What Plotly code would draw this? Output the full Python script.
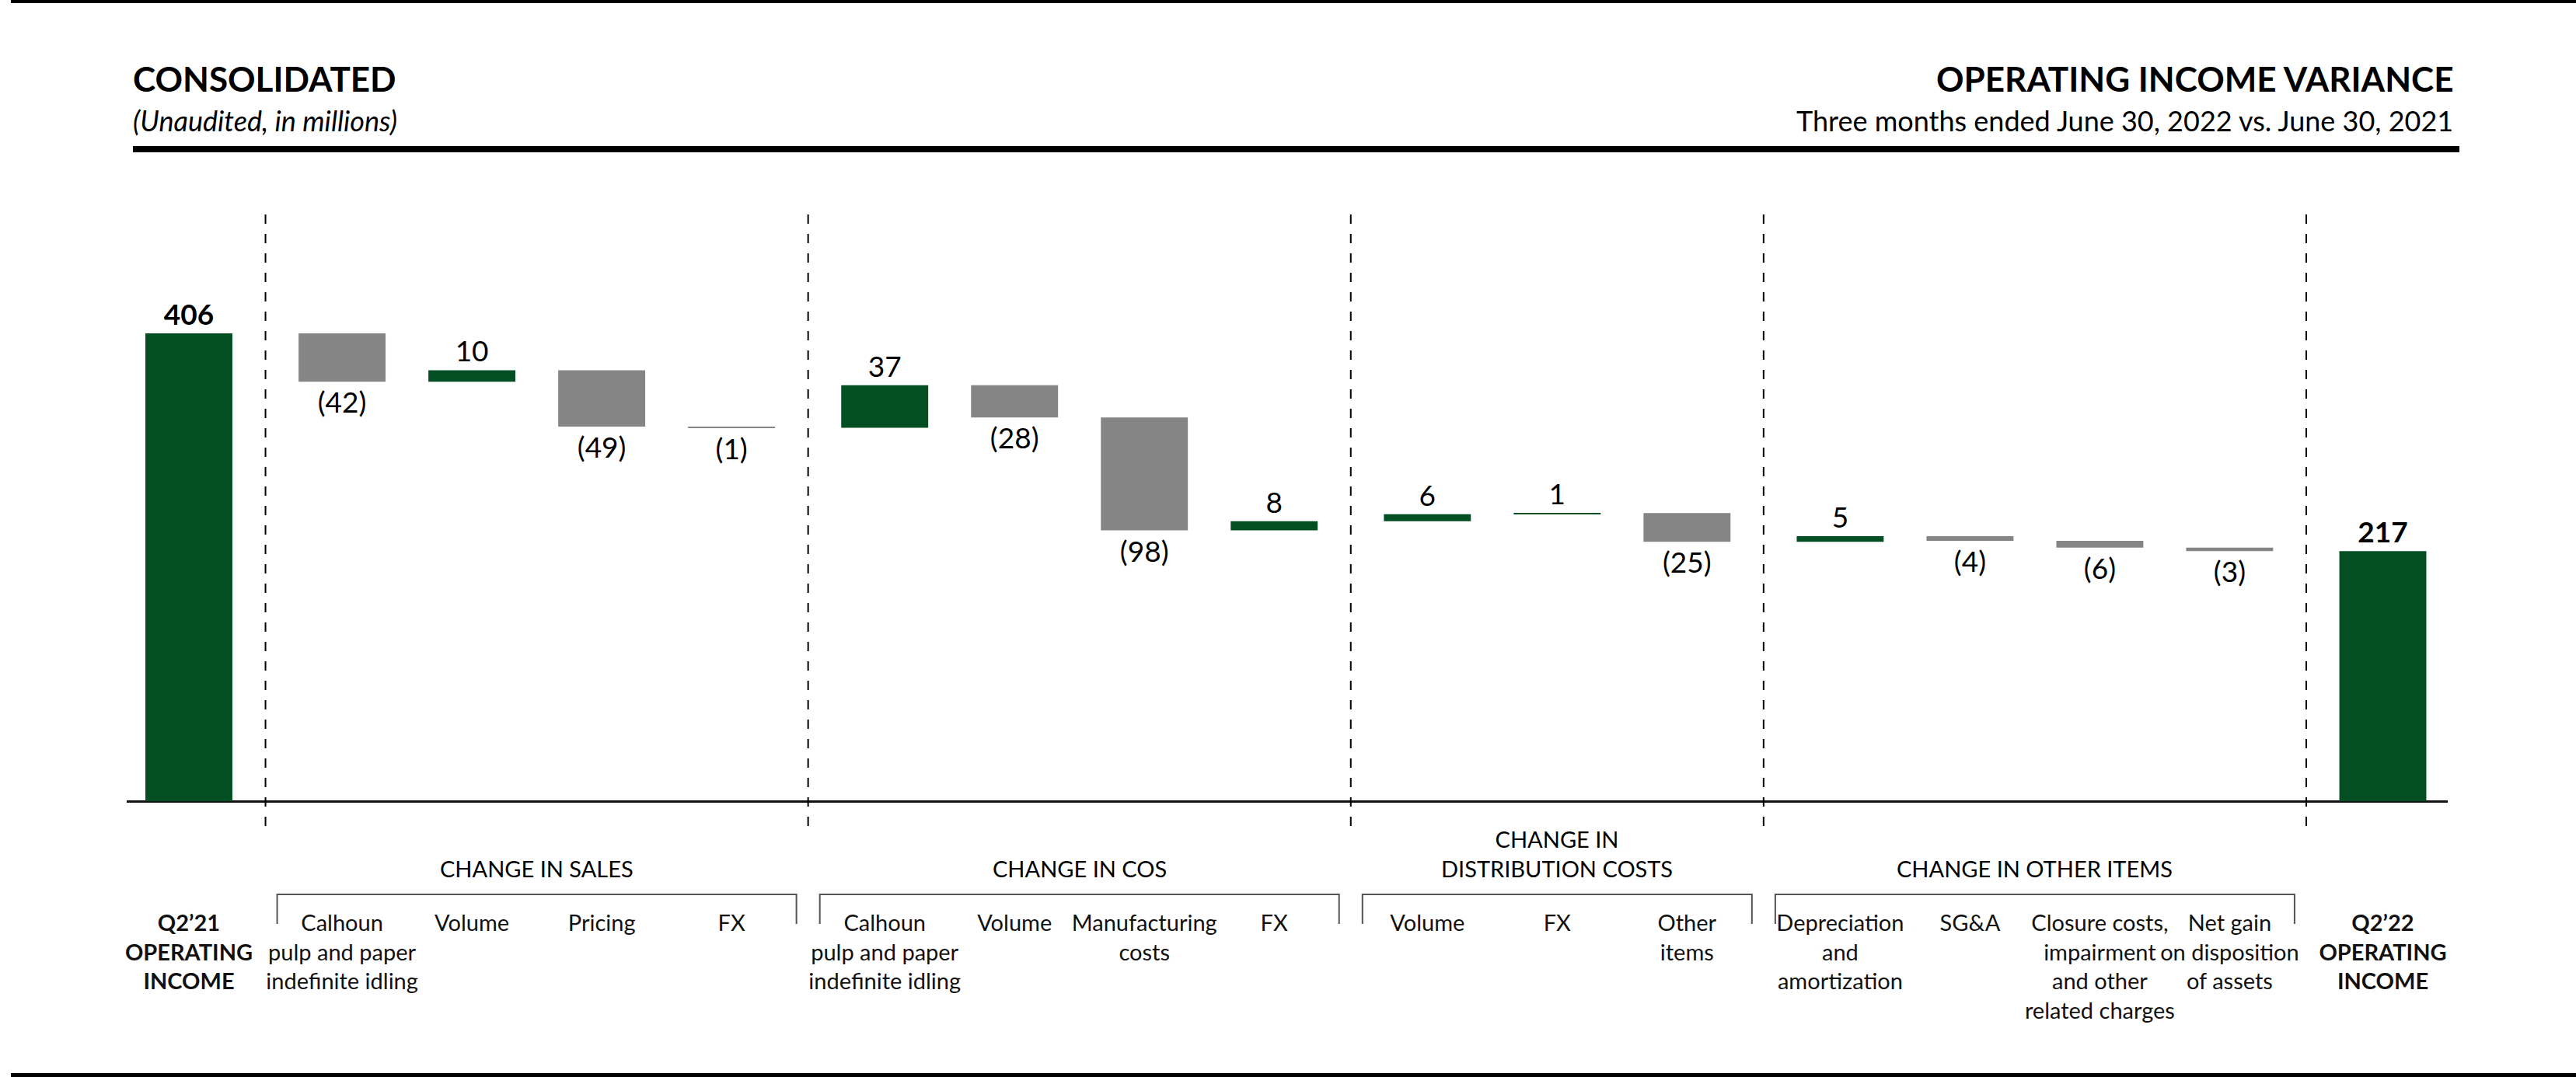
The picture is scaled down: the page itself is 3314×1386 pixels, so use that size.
import plotly.graph_objects as go

# ---------------- data ----------------
categories = [
    "Q2’21|OPERATING|INCOME",
    "Calhoun|pulp and paper|indefinite idling", "Volume", "Pricing", "FX",
    "Calhoun|pulp and paper|indefinite idling", "Volume", "Manufacturing|costs", "FX",
    "Volume", "FX", "Other|items",
    "Depreciation|and|amortization", "SG&amp;A", "Closure costs,|impairment|and other|related charges",
    "Net gain|on disposition|of assets",
    "Q2’22|OPERATING|INCOME",
]
group_index = [0, 1, 1, 1, 1, 2, 2, 2, 2, 3, 3, 3, 4, 4, 4, 4, 5]
group_titles = {1: "CHANGE IN SALES", 2: "CHANGE IN COS",
                3: "CHANGE IN<br>DISTRIBUTION COSTS", 4: "CHANGE IN OTHER ITEMS"}
measures = ["absolute"] + ["relative"] * 15 + ["total"]
values = [406, -42, 10, -49, -1, 37, -28, -98, 8, 6, 1, -25, 5, -4, -6, -3, 217]

# ---------------- style / layout constants ----------------
GREEN = "#034E23"
GRAY = "#858585"
FONT = "Lato"
W, H = 3314, 1386
L, R, T, B = 163, 3149, 276, 1072      # plot area in pixels
BASE_PX = 1031                          # pixel row of the zero line
PX_PER_UNIT = 1.4828
GROUP_GAP = 0.18
BAR_W = 0.67
X_RANGE = [-0.479, 17.40]

y_lo = -(B - BASE_PX) / PX_PER_UNIT
y_hi = (BASE_PX - T) / PX_PER_UNIT


def px_x(px):
    return (px - L) / (R - L)


def px_y(py):
    return (B - py) / (B - T)


n = len(values)
xpos = [i + GROUP_GAP * g for i, g in enumerate(group_index)]


def fmt(v, m):
    s = f"({abs(v)})" if v < 0 else f"{v}"
    return f"<b>{s}</b>" if m != "relative" else s


labels = [fmt(v, m) for v, m in zip(values, measures)]


def tick(cat, m):
    parts = cat.split("|")
    if m != "relative":
        return "<br>".join(f"<b>{p}</b>" for p in parts)
    return "<br>".join(parts)


ticktext = [tick(c, m) for c, m in zip(categories, measures)]

fig = go.Figure()
fig.add_trace(go.Waterfall(
    x=xpos, y=values, measure=measures, width=BAR_W,
    text=labels, textinfo="text", textposition="outside",
    textfont=dict(family=FONT, size=37, color="#000"),
    increasing=dict(marker=dict(color=GREEN)),
    decreasing=dict(marker=dict(color=GRAY)),
    totals=dict(marker=dict(color=GREEN)),
    connector=dict(visible=False),
    cliponaxis=False, hoverinfo="skip",
))

shapes = []
annotations = []

# dashed separators between groups
for g in range(1, 6):
    last = max(xpos[i] for i in range(n) if group_index[i] == g - 1)
    first = min(xpos[i] for i in range(n) if group_index[i] == g)
    xm = (last + first) / 2
    shapes.append(dict(type="line", xref="x", yref="paper", x0=xm, x1=xm, y0=1, y1=0,
                       line=dict(color="#000", width=2, dash="12px,13px")))

# brackets and group titles
yb_top = px_y(1151)
yb_bot = px_y(1189)
for g, title in group_titles.items():
    xs = [xpos[i] for i in range(n) if group_index[i] == g]
    xa, xb = min(xs) - 0.5, max(xs) + 0.5
    shapes.append(dict(type="path", xref="x", yref="paper",
                       path=f"M {xa},{yb_bot} L {xa},{yb_top} L {xb},{yb_top} L {xb},{yb_bot}",
                       line=dict(color="#555", width=2)))
    annotations.append(dict(xref="x", yref="paper", x=(min(xs) + max(xs)) / 2, y=px_y(1137),
                            xanchor="center", yanchor="bottom", showarrow=False, text=title,
                            font=dict(family=FONT, size=29, color="#000")))

# page rules
shapes.append(dict(type="line", xref="paper", yref="paper", x0=px_x(14), x1=px_x(3314),
                   y0=px_y(2), y1=px_y(2), line=dict(color="#000", width=4)))
shapes.append(dict(type="line", xref="paper", yref="paper", x0=px_x(171), x1=px_x(3164),
                   y0=px_y(192), y1=px_y(192), line=dict(color="#000", width=8)))
shapes.append(dict(type="line", xref="paper", yref="paper", x0=px_x(14), x1=px_x(3314),
                   y0=px_y(1383.5), y1=px_y(1383.5), line=dict(color="#000", width=5)))

# header texts
annotations += [
    dict(xref="paper", yref="paper", x=px_x(169), y=px_y(101), xanchor="left", yanchor="middle",
         showarrow=False, text="<b>CONSOLIDATED</b>", font=dict(family=FONT, size=44, color="#000")),
    dict(xref="paper", yref="paper", x=px_x(169), y=px_y(155), xanchor="left", yanchor="middle",
         showarrow=False, text="<i>(Unaudited, in millions)</i>", font=dict(family=FONT, size=36, color="#000")),
    dict(xref="paper", yref="paper", x=px_x(3158), y=px_y(101), xanchor="right", yanchor="middle",
         showarrow=False, text="<b>OPERATING INCOME VARIANCE</b>", font=dict(family=FONT, size=44, color="#000")),
    dict(xref="paper", yref="paper", x=px_x(3158), y=px_y(155), xanchor="right", yanchor="middle",
         showarrow=False, text="Three months ended June 30, 2022 vs. June 30, 2021",
         font=dict(family=FONT, size=36, color="#000")),
]

fig.update_layout(
    width=W, height=H,
    margin=dict(l=L, r=W - R, t=T, b=H - B, pad=0),
    paper_bgcolor="white", plot_bgcolor="white",
    showlegend=False,
    font=dict(family=FONT, color="#000"),
    xaxis=dict(range=X_RANGE, tickmode="array", tickvals=xpos, ticktext=ticktext, tickangle=0,
               showgrid=False, zeroline=False, showline=False, ticks="",
               tickfont=dict(family=FONT, size=29, color="#111"), ticklabelstandoff=96),
    yaxis=dict(range=[y_lo, y_hi], showgrid=False, showticklabels=False,
               zeroline=True, zerolinecolor="#111", zerolinewidth=3, showline=False),
    shapes=shapes, annotations=annotations,
)

fig.write_html("out.html")
